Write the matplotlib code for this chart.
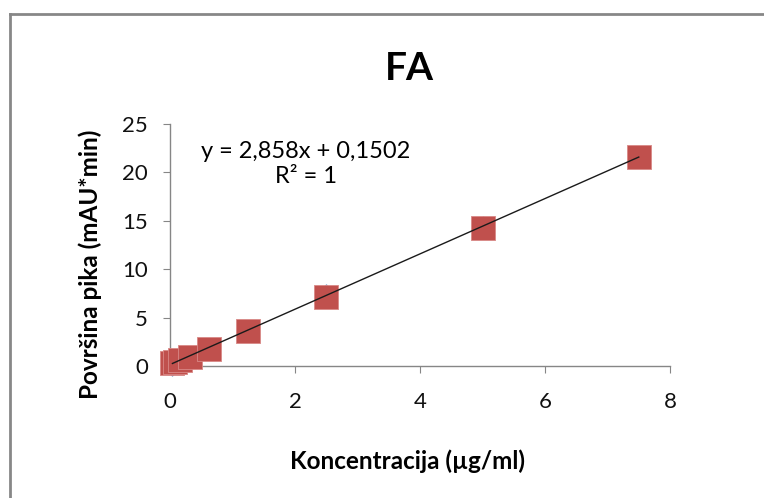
import matplotlib
matplotlib.use("Agg")
import matplotlib.pyplot as plt
from matplotlib.lines import Line2D
import numpy as np

plt.rcParams['font.family'] = ['Lato', 'DejaVu Sans']

conc = [0.039, 0.078, 0.156, 0.3125, 0.625, 1.25, 2.5, 5.0, 7.5]
area_blue = [-0.4, 0.37, 0.6, 1.05, 1.95, 3.9, 7.85, 14.85, 21.6]
area_red = [0.26, 0.4, 0.6, 0.95, 1.8, 3.6, 7.15, 14.3, 21.55]
slope = 2.858
intercept = 0.1502
title = "FA"
xlabel = "Koncentracija (µg/ml)"
ylabel = "Površina pika (mAU*min)"
eq_text = "y = 2,858x + 0,1502\nR² = 1"
xticks = [0, 2, 4, 6, 8]
yticks = [0, 5, 10, 15, 20, 25]

W, H = 764, 498
fig = plt.figure(figsize=(W / 100, H / 100), dpi=100)
ax = fig.add_axes([170 / W, 1 - 366 / H, (670 - 170) / W, (366 - 124) / H])

ax.scatter(conc, area_blue, marker='D', s=30, color='#4a7ebb', zorder=2, clip_on=False)
ax.scatter(conc, area_red, marker='s', s=300, color='#c0504d', edgecolors='#d98886',
           linewidths=0.6, zorder=3, clip_on=False)
xl = np.array([min(conc), max(conc)])
ax.plot(xl, slope * xl + intercept, color='#1a1a1a', lw=1.0, zorder=4)

ax.set_xlim(0, 8)
ax.set_ylim(0, 25)
ax.set_xticks(xticks)
ax.set_yticks(yticks)
ax.set_xticklabels([str(v) for v in xticks])
ax.set_yticklabels([str(v) for v in yticks])
for s in ['top', 'right']:
    ax.spines[s].set_visible(False)
for s in ['left', 'bottom']:
    ax.spines[s].set_color('#868686')
    ax.spines[s].set_linewidth(1.0)
ax.tick_params(axis='both', direction='out', length=5, color='#868686',
               labelsize=16, labelcolor='#111111')
ax.tick_params(axis='x', pad=14)
ax.tick_params(axis='y', pad=11)

fig.text(409 / W, 1 - 68 / H, title, ha='center', va='center', fontsize=28,
         fontweight='bold')
fig.text(408 / W, 1 - 461 / H, xlabel, ha='center', va='center', fontsize=17.5,
         fontweight='bold')
fig.text(90 / W, 1 - 264 / H, ylabel, ha='center', va='center', fontsize=17.5,
         fontweight='bold', rotation=90)
fig.text(306 / W, 1 - 164 / H, eq_text, ha='center', va='center', fontsize=17,
         linespacing=1.2)

fig.add_artist(Line2D([10 / W, 10 / W], [0, 1 - 14 / H], transform=fig.transFigure,
                      color='#878787', lw=2))
fig.add_artist(Line2D([10 / W, 1], [1 - 14 / H, 1 - 14 / H], transform=fig.transFigure,
                      color='#878787', lw=2))

fig.savefig('out.png', dpi=100)
